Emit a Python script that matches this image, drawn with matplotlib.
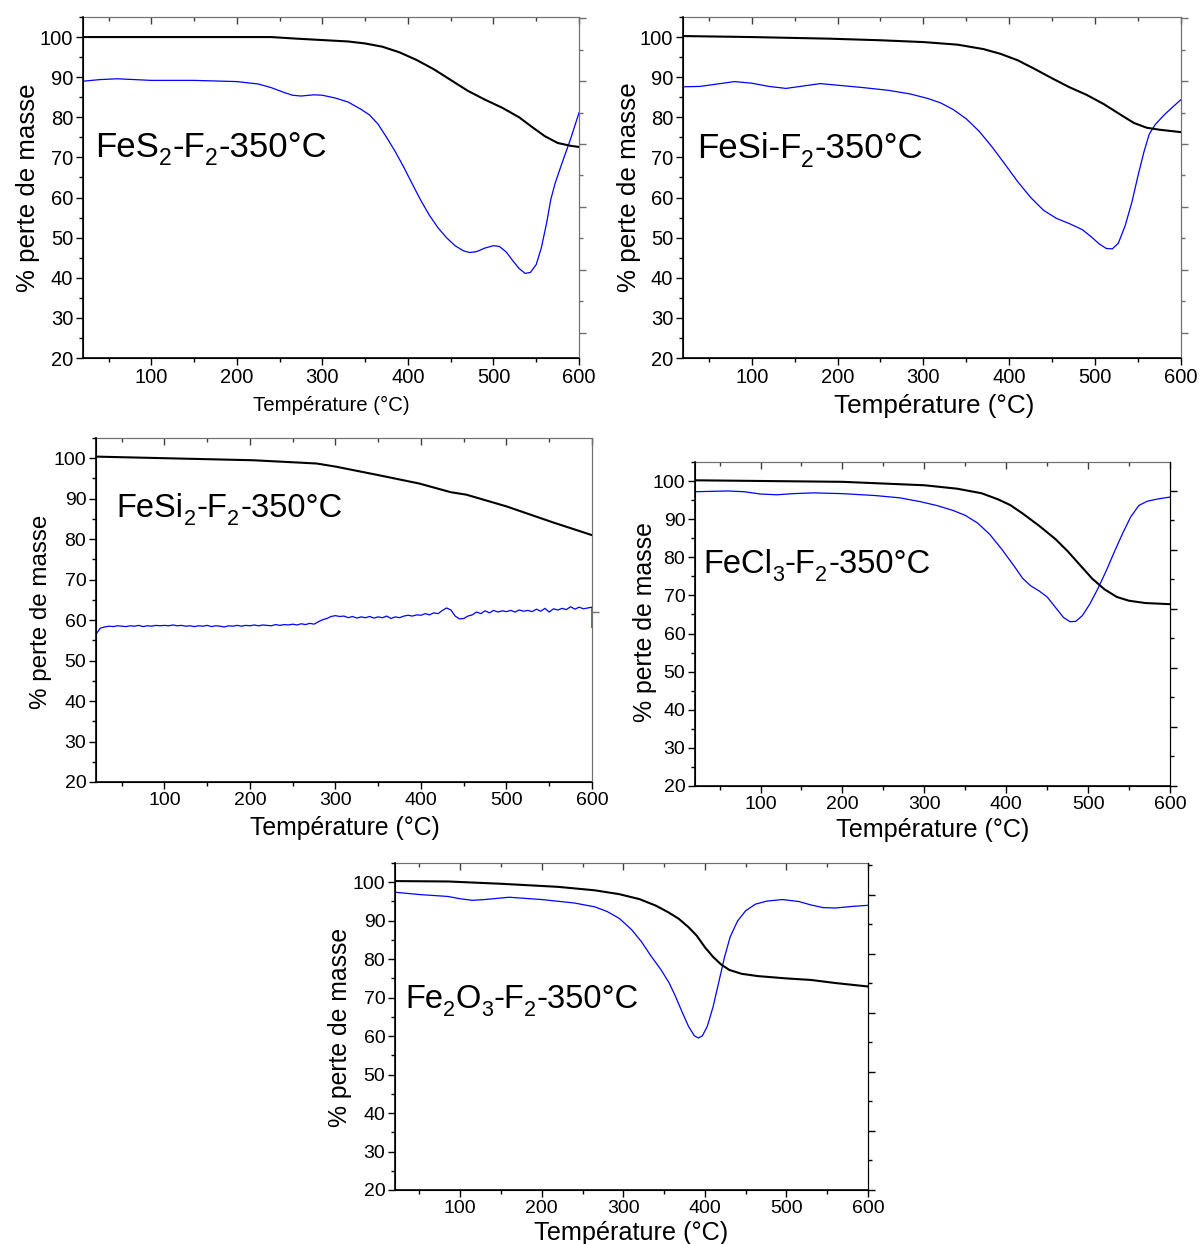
import numpy as np
import matplotlib
matplotlib.use("Agg")
import matplotlib.pyplot as plt
import matplotlib.transforms as mtransforms
from matplotlib.ticker import MultipleLocator, FixedLocator, NullFormatter

plt.rcParams['font.family'] = ['Liberation Sans', 'DejaVu Sans']

# ---------------- data ----------------
# Panel 1 : FeS2
fes2_t_black = [20, 240, 270, 300, 330, 350, 370, 390, 410, 430, 450, 470, 490, 510, 530, 545, 560, 575, 590, 600]
fes2_m_black = [100, 100, 99.6, 99.25, 98.9, 98.4, 97.6, 96.2, 94.3, 92.0, 89.3, 86.6, 84.4, 82.4, 80.0,
                77.6, 75.3, 73.6, 72.9, 72.6]
fes2_t_blue = [20, 40, 60, 80, 100, 150, 200, 225, 240, 255, 265, 275, 290, 300, 315, 330, 345, 355, 365,
               375, 385, 395, 405, 415, 425, 435, 445, 455, 465, 472, 480, 490, 500, 507, 515, 522, 530,
               537, 543, 550, 556, 562, 567, 572, 580, 590, 600]
fes2_m_blue = [89.0, 89.4, 89.6, 89.4, 89.2, 89.2, 88.9, 88.3, 87.4, 86.2, 85.5, 85.3, 85.6, 85.5, 84.8,
               83.8, 82.0, 80.6, 78.3, 75.0, 71.5, 67.6, 63.4, 59.3, 55.6, 52.5, 50.0, 48.0, 46.7, 46.3,
               46.5, 47.4, 48.0, 47.8, 46.4, 44.4, 42.3, 41.1, 41.3, 43.3, 47.5, 53.5, 59.5, 63.5, 68.5,
               74.5, 81.1]

# Panel 2 : FeSi
fesi_t_black = [20, 100, 190, 250, 300, 340, 370, 390, 410, 430, 450, 470, 490, 510, 530, 545, 560, 575, 600]
fesi_m_black = [100.25, 100, 99.6, 99.2, 98.75, 98.1, 97.0, 95.8, 94.2, 92.0, 89.7, 87.5, 85.6, 83.3,
                80.6, 78.6, 77.4, 76.9, 76.3]
fesi_t_blue = [20, 40, 60, 80, 100, 120, 140, 160, 180, 200, 230, 260, 285, 305, 320, 335, 350, 365, 380,
               395, 410, 425, 440, 455, 470, 485, 495, 505, 513, 520, 527, 535, 543, 550, 557, 563, 570,
               580, 590, 600]
fesi_m_blue = [87.6, 87.7, 88.3, 88.9, 88.5, 87.7, 87.2, 87.8, 88.4, 88.0, 87.4, 86.7, 85.8, 84.7, 83.6,
               81.9, 79.6, 76.5, 72.6, 68.3, 63.9, 60.0, 56.8, 54.8, 53.5, 52.0, 50.3, 48.4, 47.3, 47.2,
               48.6, 53.0, 59.0, 65.5, 71.5, 75.8, 78.2, 80.5, 82.5, 84.4]

# Panel 3 : FeSi2
fesi2_t_black = [20, 102, 204, 278, 301, 352, 398, 435, 453, 500, 555, 600]
fesi2_m_black = [100.4, 100, 99.5, 98.7, 97.9, 95.75, 93.75, 91.6, 91.0, 88.1, 84.1, 81.0]
fesi2_m_blue = [56.5, 58.0, 58.3, 58.5, 58.4, 58.6, 58.5, 58.4, 58.6, 58.5, 58.7, 58.4, 58.6, 58.5,
                58.7, 58.6, 58.7, 58.6, 58.8, 58.6, 58.7, 58.5, 58.6, 58.4, 58.6, 58.5, 58.7, 58.4,
                58.6, 58.5, 58.3, 58.6, 58.5, 58.7, 58.5, 58.7, 58.6, 58.8, 58.6, 58.8, 58.7, 58.6,
                58.9, 58.7, 58.9, 58.8, 59.0, 58.8, 59.1, 58.9, 59.2, 59.0, 59.6, 60.1, 60.4, 60.9,
                61.1, 60.9, 61.0, 60.6, 60.9, 60.5, 60.8, 60.6, 60.9, 60.5, 60.8, 60.6, 61.0, 60.4,
                60.8, 60.6, 61.0, 61.2, 61.0, 61.3, 61.2, 61.6, 61.3, 61.8, 61.6, 62.4, 63.0, 62.5,
                61.0, 60.3, 60.4, 61.0, 61.3, 62.0, 61.6, 62.3, 61.8, 62.4, 62.0, 62.3, 62.1, 62.4,
                62.0, 62.5, 62.2, 62.4, 62.1, 62.7, 62.2, 62.9, 62.0, 62.8, 62.5, 62.9, 62.6, 63.3,
                62.7, 63.2, 62.8, 63.0, 63.2, 58.2]
fesi2_t_blue = [20 + 5 * i for i in range(len(fesi2_m_blue) - 1)] + [600]

# Panel 4 : FeCl3
fecl3_t_black = [20, 200, 300, 340, 370, 390, 405, 420, 440, 460, 475, 490, 505, 520, 535, 550, 570, 600]
fecl3_m_black = [100.2, 99.8, 98.9, 98.0, 96.8, 95.2, 93.7, 91.5, 88.3, 84.8, 81.6, 78.0, 74.4, 71.6,
                 69.6, 68.6, 68.0, 67.7]
fecl3_t_blue = [20, 60, 80, 100, 120, 140, 165, 200, 240, 270, 295, 315, 335, 350, 365, 380, 395, 410,
                420, 430, 440, 450, 460, 470, 478, 485, 493, 502, 512, 522, 532, 542, 552, 562, 572,
                585, 600]
fecl3_m_blue = [97.2, 97.4, 97.2, 96.6, 96.4, 96.7, 96.9, 96.7, 96.2, 95.6, 94.6, 93.6, 92.3, 91.0,
                89.0, 86.0, 82.0, 77.6, 74.5, 72.5, 71.2, 69.6, 66.9, 64.2, 63.1, 63.2, 64.7, 67.7,
                71.8, 76.4, 81.4, 86.2, 90.6, 93.6, 94.7, 95.3, 95.8]

# Panel 5 : Fe2O3
fe2o3_t_black = [20, 85, 150, 220, 265, 295, 320, 340, 355, 368, 380, 390, 400, 410, 420, 430, 445, 465,
                 500, 530, 560, 600]
fe2o3_m_black = [100.3, 100.2, 99.6, 98.8, 97.9, 96.9, 95.6, 93.9, 92.2, 90.5, 88.3, 86.1, 83.1, 80.6,
                 78.6, 77.2, 76.2, 75.6, 75.0, 74.6, 73.8, 72.9]
fe2o3_t_blue = [20, 50, 85, 100, 115, 130, 160, 200, 240, 265, 280, 295, 310, 322, 334, 346, 356, 364,
                372, 380, 387, 392, 397, 403, 410, 417, 424, 431, 440, 450, 462, 476, 495, 515, 530, 545,
                560, 580, 600]
fe2o3_m_blue = [97.4, 96.8, 96.3, 95.7, 95.3, 95.5, 96.1, 95.5, 94.6, 93.6, 92.4, 90.6, 87.7, 84.6,
                80.8, 77.3, 73.9, 70.3, 66.3, 62.5, 60.1, 59.5, 60.1, 62.6, 67.6, 74.0, 80.5, 85.8,
                89.9, 92.6, 94.3, 95.1, 95.5, 95.0, 94.1, 93.4, 93.3, 93.7, 94.0]

xticks = [100, 200, 300, 400, 500, 600]
yticks = [20, 30, 40, 50, 60, 70, 80, 90, 100]
xlabel_text = "Température (°C)"
ylabel_text = "% perte de masse"

# ---------------- figure ----------------
W, H = 1201, 1244
fig = plt.figure(figsize=(W / 100, H / 100), dpi=100)
renderer = fig.canvas.get_renderer()


def px_axes(l, r, t, b):
    return fig.add_axes([l / W, 1 - b / H, (r - l) / W, (b - t) / H])


def draw_title(ax, x, y, parts, size):
    offset = 0.0
    for txt, sub in parts:
        fs = size * 0.66 if sub else size
        dy = -size * 0.24 if sub else 0.0
        tr = mtransforms.offset_copy(ax.transAxes, fig=fig, x=offset, y=dy, units='points')
        t = ax.text(x, y, txt, transform=tr, fontsize=fs, ha='left', va='baseline', zorder=5)
        w = t.get_window_extent(renderer).width
        offset += w * 72.0 / fig.dpi + (0.02 * size if sub else 0.0)


panels = [
    dict(box=(83, 579, 17, 358), tb=fes2_t_black, mb=fes2_m_black, tu=fes2_t_blue, mu=fes2_m_blue,
         title=[("FeS", 0), ("2", 1), ("-F", 0), ("2", 1), ("-350°C", 0)], tpos=(0.024, 0.59), tsize=25,
         ticksize=14.5, xl=14.7, yl=18.6, xlc=(0.5, -0.112), ylc=(-0.087, 0.5),
         right=(-0.397, 5.016, None), rcol='#707070'),
    dict(box=(683, 1181, 17, 358), tb=fesi_t_black, mb=fesi_m_black, tu=fesi_t_blue, mu=fesi_m_blue,
         title=[("FeSi-F", 0), ("2", 1), ("-350°C", 0)], tpos=(0.028, 0.586), tsize=25,
         ticksize=14.5, xl=18.8, yl=18.7, xlc=(0.504, -0.106), ylc=(-0.084, 0.5),
         right=(-0.397, 5.016, None), rcol='#707070'),
    dict(box=(96, 592, 438, 782), tb=fesi2_t_black, mb=fesi2_m_black, tu=fesi2_t_blue, mu=fesi2_m_blue,
         title=[("FeSi", 0), ("2", 1), ("-F", 0), ("2", 1), ("-350°C", 0)], tpos=(0.042, 0.77), tsize=23.5,
         ticksize=14, xl=17.8, yl=17.4, xlc=(0.502, -0.100), ylc=(-0.089, 0.496),
         right=(0, 1, [0.494]), rcol='#707070'),
    dict(box=(695, 1170, 462, 786), tb=fecl3_t_black, mb=fecl3_m_black, tu=fecl3_t_blue, mu=fecl3_m_blue,
         title=[("FeCl", 0), ("3", 1), ("-F", 0), ("2", 1), ("-350°C", 0)], tpos=(0.017, 0.657), tsize=23.5,
         ticksize=14, xl=18.1, yl=17.9, xlc=(0.501, -0.099), ylc=(-0.080, 0.506),
         right=(0, 5.49, None), rcol='black'),
    dict(box=(395, 868, 863, 1190), tb=fe2o3_t_black, mb=fe2o3_m_black, tu=fe2o3_t_blue, mu=fe2o3_m_blue,
         title=[("Fe", 0), ("2", 1), ("O", 0), ("3", 1), ("-F", 0), ("2", 1), ("-350°C", 0)],
         tpos=(0.021, 0.557), tsize=23.5, ticksize=14, xl=18.2, yl=17.8, xlc=(0.499, -0.096),
         ylc=(-0.091, 0.497), right=(0, 5.54, None), rcol='black'),
]

for p in panels:
    ax = px_axes(*p['box'])
    ax.plot(p['tu'], p['mu'], color='#0000ff', lw=0.9, zorder=3)
    ax.plot(p['tb'], p['mb'], color='black', lw=1.5, zorder=4)
    ax.set_xlim(20, 600)
    ax.set_ylim(20, 105)
    ax.xaxis.set_major_locator(FixedLocator(xticks))
    ax.xaxis.set_minor_locator(MultipleLocator(50))
    ax.yaxis.set_major_locator(FixedLocator(yticks))
    ax.yaxis.set_minor_locator(MultipleLocator(5))
    ax.tick_params(axis='both', which='major', direction='out', length=5, width=1,
                   labelsize=p['ticksize'], pad=2)
    ax.tick_params(axis='both', which='minor', direction='out', length=3, width=1)
    # top ticks (inward, no labels)
    sec = ax.secondary_xaxis('top')
    sec.xaxis.set_major_locator(FixedLocator(xticks))
    sec.xaxis.set_minor_locator(MultipleLocator(50))
    sec.xaxis.set_major_formatter(NullFormatter())
    sec.tick_params(which='major', direction='in', length=5, width=1, color='#404040')
    sec.tick_params(which='minor', direction='in', length=3, width=1, color='#404040')
    sec.spines['top'].set_color('#707070')
    # right ticks (outward, no labels)
    tw = ax.twinx()
    lo, hi, fixed = p['right']
    tw.set_ylim(lo, hi)
    if fixed is None:
        tw.yaxis.set_major_locator(MultipleLocator(1))
        tw.yaxis.set_minor_locator(MultipleLocator(0.5))
    else:
        tw.yaxis.set_major_locator(FixedLocator(fixed))
        tw.yaxis.set_minor_locator(FixedLocator([]))
    tw.yaxis.set_major_formatter(NullFormatter())
    tw.tick_params(which='major', direction='out', length=5, width=1, color=p['rcol'])
    tw.tick_params(which='minor', direction='out', length=3, width=1, color=p['rcol'])
    tw.spines['right'].set_color(p['rcol'])
    tw.spines['top'].set_visible(False)
    ax.spines['top'].set_color('#707070')
    ax.spines['right'].set_color(p['rcol'])
    for s in ['left', 'bottom']:
        ax.spines[s].set_linewidth(1.2)

    ax.set_xlabel(xlabel_text, fontsize=p['xl'])
    ax.xaxis.set_label_coords(*p['xlc'])
    ax.set_ylabel(ylabel_text, fontsize=p['yl'])
    ax.yaxis.set_label_coords(*p['ylc'])
    draw_title(ax, p['tpos'][0], p['tpos'][1], p['title'], p['tsize'])

fig.savefig('out.png', dpi=100)
